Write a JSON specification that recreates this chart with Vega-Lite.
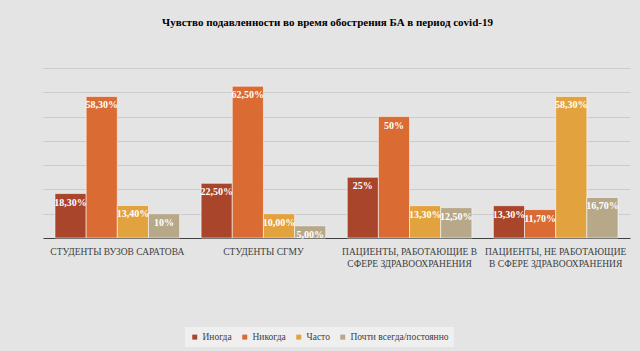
{
  "$schema": "https://vega.github.io/schema/vega-lite/v6.json",
  "autosize": {"type": "none"},
  "width": 587,
  "height": 170,
  "padding": {"left": 43, "top": 68, "right": 10, "bottom": 113},
  "background": "#e4e4e4",
  "title": {
    "text": "Чувство подавленности во время обострения БА в период covid-19",
    "font": "Liberation Serif",
    "fontSize": 11,
    "fontWeight": "bold",
    "color": "#000000",
    "anchor": "middle",
    "dx": -9,
    "offset": 40
  },
  "data": {
    "values": [
      {"group": "СТУДЕНТЫ ВУЗОВ САРАТОВА", "answer": "Иногда", "value": 18.3, "label": "18,30%"},
      {"group": "СТУДЕНТЫ ВУЗОВ САРАТОВА", "answer": "Никогда", "value": 58.3, "label": "58,30%"},
      {"group": "СТУДЕНТЫ ВУЗОВ САРАТОВА", "answer": "Часто", "value": 13.4, "label": "13,40%"},
      {"group": "СТУДЕНТЫ ВУЗОВ САРАТОВА", "answer": "Почти всегда/постоянно", "value": 10, "label": "10%"},
      {"group": "СТУДЕНТЫ СГМУ", "answer": "Иногда", "value": 22.5, "label": "22,50%"},
      {"group": "СТУДЕНТЫ СГМУ", "answer": "Никогда", "value": 62.5, "label": "62,50%"},
      {"group": "СТУДЕНТЫ СГМУ", "answer": "Часто", "value": 10, "label": "10,00%"},
      {"group": "СТУДЕНТЫ СГМУ", "answer": "Почти всегда/постоянно", "value": 5, "label": "5,00%"},
      {"group": "ПАЦИЕНТЫ, РАБОТАЮЩИЕ В|СФЕРЕ ЗДРАВООХРАНЕНИЯ", "answer": "Иногда", "value": 25, "label": "25%"},
      {"group": "ПАЦИЕНТЫ, РАБОТАЮЩИЕ В|СФЕРЕ ЗДРАВООХРАНЕНИЯ", "answer": "Никогда", "value": 50, "label": "50%"},
      {"group": "ПАЦИЕНТЫ, РАБОТАЮЩИЕ В|СФЕРЕ ЗДРАВООХРАНЕНИЯ", "answer": "Часто", "value": 13.3, "label": "13,30%"},
      {"group": "ПАЦИЕНТЫ, РАБОТАЮЩИЕ В|СФЕРЕ ЗДРАВООХРАНЕНИЯ", "answer": "Почти всегда/постоянно", "value": 12.5, "label": "12,50%"},
      {"group": "ПАЦИЕНТЫ, НЕ РАБОТАЮЩИЕ|В СФЕРЕ ЗДРАВООХРАНЕНИЯ", "answer": "Иногда", "value": 13.3, "label": "13,30%"},
      {"group": "ПАЦИЕНТЫ, НЕ РАБОТАЮЩИЕ|В СФЕРЕ ЗДРАВООХРАНЕНИЯ", "answer": "Никогда", "value": 11.7, "label": "11,70%"},
      {"group": "ПАЦИЕНТЫ, НЕ РАБОТАЮЩИЕ|В СФЕРЕ ЗДРАВООХРАНЕНИЯ", "answer": "Часто", "value": 58.3, "label": "58,30%"},
      {"group": "ПАЦИЕНТЫ, НЕ РАБОТАЮЩИЕ|В СФЕРЕ ЗДРАВООХРАНЕНИЯ", "answer": "Почти всегда/постоянно", "value": 16.7, "label": "16,70%"}
    ]
  },
  "encoding": {
    "x": {
      "field": "group",
      "type": "nominal",
      "sort": null,
      "scale": {"paddingInner": 0.147, "paddingOuter": 0.082},
      "axis": {
        "title": null,
        "labelAngle": 0,
        "labelExpr": "split(datum.label, '|')",
        "labelFont": "Liberation Serif",
        "labelFontSize": 9.5,
        "labelColor": "#404040",
        "labelLineHeight": 12,
        "labelPadding": 8,
        "labelLimit": 200,
        "ticks": false,
        "domainColor": "#404040",
        "domainWidth": 1,
        "grid": false
      }
    },
    "xOffset": {
      "field": "answer",
      "type": "nominal",
      "sort": ["Иногда", "Никогда", "Часто", "Почти всегда/постоянно"]
    },
    "y": {
      "field": "value",
      "type": "quantitative",
      "scale": {"domain": [0, 70], "nice": false},
      "axis": {
        "title": null,
        "labels": false,
        "ticks": false,
        "domain": false,
        "values": [0, 10, 20, 30, 40, 50, 60, 70],
        "gridColor": "#cccccc",
        "gridWidth": 1
      }
    }
  },
  "layer": [
    {
      "mark": {"type": "bar", "stroke": "#ffffff", "strokeWidth": 0.7, "strokeOpacity": 0.8},
      "encoding": {
        "color": {
          "field": "answer",
          "type": "nominal",
          "sort": ["Иногда", "Никогда", "Часто", "Почти всегда/постоянно"],
          "scale": {
            "domain": ["Иногда", "Никогда", "Часто", "Почти всегда/постоянно"],
            "range": ["#a9452b", "#d96b33", "#e2a23e", "#b8a88a"]
          },
          "legend": {
            "title": null,
            "orient": "none",
            "direction": "horizontal",
            "legendX": 142,
            "legendY": 259,
            "symbolType": "square",
            "symbolSize": 25,
            "symbolStrokeWidth": 0,
            "labelFont": "Liberation Serif",
            "labelFontSize": 9.5,
            "labelColor": "#404040",
            "columnPadding": 8,
            "labelOffset": 3,
            "fillColor": "#efefef",
            "padding": 5
          }
        }
      }
    },
    {
      "mark": {
        "type": "text",
        "baseline": "middle",
        "dy": 9,
        "font": "Liberation Serif",
        "fontSize": 10,
        "fontWeight": "bold",
        "color": "#ffffff"
      },
      "encoding": {
        "text": {"field": "label"}
      }
    }
  ],
  "config": {
    "view": {"stroke": null},
    "font": "Liberation Serif"
  }
}
